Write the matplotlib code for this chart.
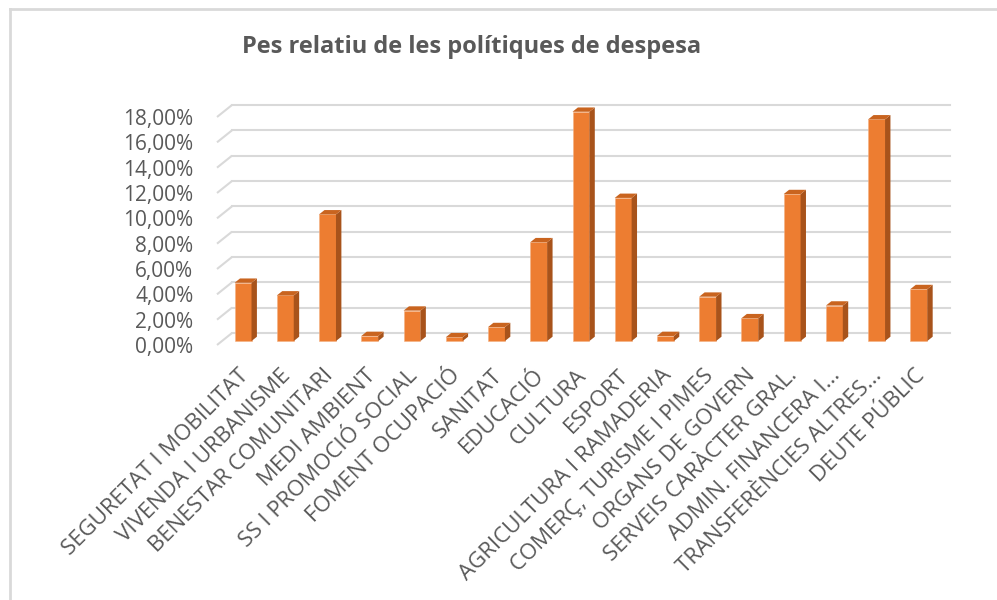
import matplotlib
matplotlib.use("Agg")
import matplotlib.pyplot as plt
import matplotlib.transforms as mtransforms
from matplotlib.patches import Polygon

# Chart data
categories = [
    "SEGURETAT I MOBILITAT", "VIVENDA I URBANISME", "BENESTAR COMUNITARI",
    "MEDI AMBIENT", "SS I PROMOCIÓ SOCIAL", "FOMENT OCUPACIÓ", "SANITAT",
    "EDUCACIÓ", "CULTURA", "ESPORT", "AGRICULTURA I RAMADERIA",
    "COMERÇ, TURISME I PIMES", "ORGANS DE GOVERN", "SERVEIS CARÀCTER GRAL.",
    "ADMIN. FINANCERA I...", "TRANSFERÈNCIES ALTRES...", "DEUTE PÚBLIC",
]
values = [4.6, 3.6, 10.0, 0.4, 2.4, 0.3, 1.1, 7.8, 18.1, 11.3,
          0.4, 3.5, 1.8, 11.6, 2.8, 17.5, 4.1]
yticks = [0, 2, 4, 6, 8, 10, 12, 14, 16, 18]
ytick_labels = ["%.2f%%" % v for v in yticks]
ytick_labels = [s.replace(".", ",") for s in ytick_labels]

title = "Pes relatiu de les polítiques de despesa"

# Colours
orange = "#ED7D31"
orange_side = "#A8531B"
orange_top = "#C9641F"
grid_col = "#D9D9D9"
text_col = "#595959"

plt.rcParams["font.family"] = ["Open Sans", "DejaVu Sans"]

W, H = 997, 600
fig = plt.figure(figsize=(W / 100, H / 100), dpi=100)

# front plane of the pseudo-3D plot, in pixels
left_px, right_px = 217, 935
bottom_px, top_px = 345, 117
ax = fig.add_axes([left_px / W, 1 - bottom_px / H,
                   (right_px - left_px) / W, (bottom_px - top_px) / H])
n = len(categories)
ax.set_xlim(-0.5, n - 0.5)
ax.set_ylim(0, 18)
for s in ax.spines.values():
    s.set_visible(False)

# depth of the 3D box, converted from pixels into data units
px_per_x = (right_px - left_px) / n
px_per_y = (bottom_px - top_px) / 18
depth_x = 15 / px_per_x
depth_y = 12 / px_per_y

# gridlines: diagonal on the left side wall + horizontal on back wall
x0, x1 = -0.5, n - 0.5
for v in yticks:
    ax.plot([x0, x0 + depth_x], [v, v + depth_y], color=grid_col, lw=1.5,
            clip_on=False, zorder=1, solid_capstyle="butt")
    ax.plot([x0 + depth_x, x1 + depth_x], [v + depth_y, v + depth_y],
            color=grid_col, lw=1.5, clip_on=False, zorder=1)

# bars
w = 0.40
f0 = 0.33   # front face position in depth
fb = 0.36   # bar depth
ox, oy = f0 * depth_x, f0 * depth_y
bx, by = fb * depth_x, fb * depth_y
xs = [i + ox for i in range(n)]
ax.bar(xs, values, width=w, bottom=oy, color=orange, zorder=3,
       clip_on=False, edgecolor="#F4B183", linewidth=0.4)
for x, v in zip(xs, values):
    side = [(x + w / 2, oy), (x + w / 2 + bx, oy + by),
            (x + w / 2 + bx, v + oy + by), (x + w / 2, v + oy)]
    top = [(x - w / 2, v + oy), (x + w / 2, v + oy),
           (x + w / 2 + bx, v + oy + by), (x - w / 2 + bx, v + oy + by)]
    ax.add_patch(Polygon(side, closed=True, facecolor=orange_side,
                         edgecolor="none", zorder=3, clip_on=False))
    ax.add_patch(Polygon(top, closed=True, facecolor=orange_top,
                         edgecolor="none", zorder=3, clip_on=False))

# y axis labels
ax.set_yticks(yticks)
ax.set_yticklabels(ytick_labels, fontsize=15, color=text_col)
ax.tick_params(axis="y", length=0, pad=17)
ax.set_xticks([])

# x category labels, rotated 45 degrees
lab_off = mtransforms.ScaledTranslation(-5 / 100, -20 / 100, fig.dpi_scale_trans)
for x, lab in zip(xs, categories):
    ax.text(x, 0, lab, transform=ax.transData + lab_off, rotation=45,
            rotation_mode="anchor", ha="right", va="top",
            fontsize=16, color=text_col)

# title
fig.text(472 / W, 1 - 47 / H, title, ha="center", va="center",
         fontsize=17, fontweight="bold", color=text_col)

# chart area border (top and left)
fig.add_artist(plt.Line2D([10 / W, 1], [1 - 9 / H, 1 - 9 / H],
                          transform=fig.transFigure, color=grid_col, lw=2))
fig.add_artist(plt.Line2D([10 / W, 10 / W], [0, 1 - 9 / H],
                          transform=fig.transFigure, color=grid_col, lw=2))

fig.savefig("out.png", dpi=100)
